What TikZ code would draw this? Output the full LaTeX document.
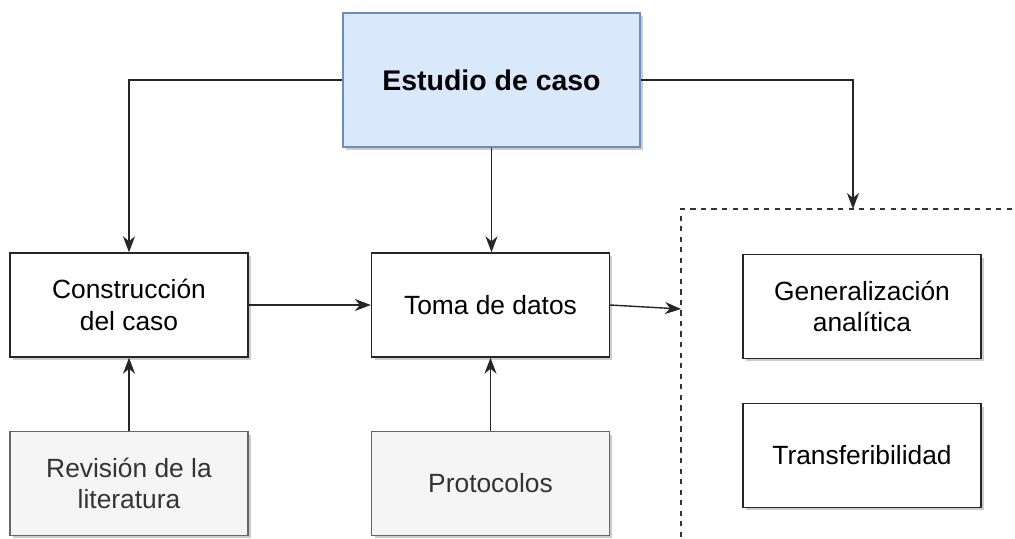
\documentclass[tikz,border=0pt]{standalone}
\usepackage{fontspec}
\setmainfont{Liberation Sans}
\usetikzlibrary{arrows.meta,shadows}
\definecolor{lightblue}{RGB}{218, 232, 252}
\definecolor{blueline}{RGB}{108, 142, 191}
\definecolor{lightgray}{RGB}{245, 245, 245}
\definecolor{grayline}{RGB}{102, 102, 102}
\definecolor{graytext}{RGB}{51, 51, 51}

\begin{document}
\begin{tikzpicture}[x=0.02cm,y=-0.02cm,
        caja/.style={draw=black!85,fill=white,line width=0.8pt,minimum width=4.76cm,minimum height=2.08cm,
            align=center,font=\fontsize{15}{18}\selectfont,
            drop shadow={shadow xshift=0.06cm,shadow yshift=-0.06cm,fill=black!40,opacity=0.5}},
        fuente/.style={caja,fill=lightgray,draw=grayline,text=graytext,drop shadow={opacity=0}},
        flecha/.style={draw=black!85,line width=0.8pt,-{Stealth[length=3.2mm,width=2.4mm,inset=1mm]}}]
        \useasboundingbox (0,0) rectangle (1015,538);
        % contenedor de resultados
        \node[draw=black!80,dashed,line width=0.8pt,minimum width=7.18cm,minimum height=7.02cm] (grupo) at (860.5,384.5) {};
        \coordinate (grupoarriba) at (853,209);
        \coordinate (grupoentrada) at (681,309);
        % cajas
        \node[caja,fill=lightblue,draw=blueline,minimum width=5.94cm,minimum height=2.68cm,
            font=\fontsize{16.2}{19}\selectfont\bfseries] (estudio) at (491.5,80) {Estudio de caso};
        \node[caja] (construccion) at (129,305) {Construcción\\del caso};
        \node[caja] (toma) at (490.5,305) {Toma de datos};
        \node[fuente] (revision) at (129,483.5) {Revisión de la\\literatura};
        \node[fuente] (protocolos) at (490.5,483.5) {Protocolos};
        \node[caja] (generalizacion) at (862,306.5) {Generalización\\analítica};
        \node[caja] (transferibilidad) at (862,455.5) {Transferibilidad};
        % flechas
        \draw[flecha] (estudio.west) -| (construccion.north);
        \draw[flecha] (estudio.south) -- (estudio.south |- toma.north);
        \draw[flecha] (estudio.east) -| (grupoarriba);
        \draw[flecha] (construccion.east) -- (toma.west);
        \draw[flecha] (toma.east) -- (grupoentrada);
        \draw[flecha] (revision.north) -- (construccion.south);
        \draw[flecha] (protocolos.north) -- (toma.south);
    \end{tikzpicture}
\end{document}
